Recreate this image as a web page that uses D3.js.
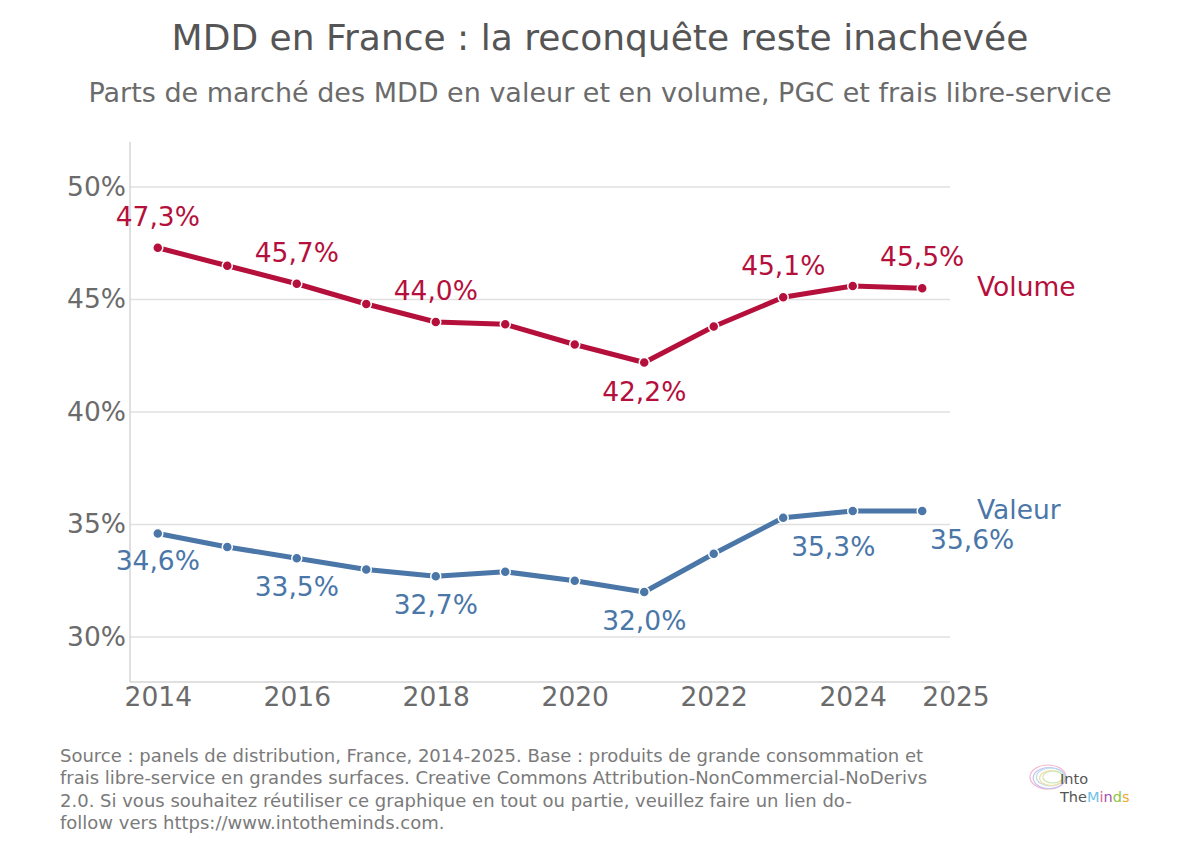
<!DOCTYPE html>
<meta charset="utf-8">
<html>
  <head>
    <title>MDD en France</title>
    <script src="https://d3js.org/d3.v7.min.js"></script>
    <style>
      body { margin: 0; background: #fff; }
      svg text { font-family: "DejaVu Sans", sans-serif; }
      .grid line { stroke: #e0e0e0; stroke-width: 1.5px; }
      .axis text { fill: #6b6b6b; font-size: 26.5px; font-family: "DejaVu Sans", sans-serif; }
      .axis path, .axis line { stroke: #d6d6d6; stroke-width: 1.5px; }
      .footer { fill: #7a7a7a; font-size: 18px; }
    </style>
  </head>
  <body>
    <svg id="chart" width="1200" height="850"></svg>
    <script>
      const width = 1200;
      const height = 850;

      // Données
      const years = [2014, 2015, 2016, 2017, 2018, 2019, 2020, 2021, 2022, 2023, 2024, 2025];
      const volume = [47.3, 46.5, 45.7, 44.8, 44.0, 43.9, 43.0, 42.2, 43.8, 45.1, 45.6, 45.5];
      const valeur = [34.6, 34.0, 33.5, 33.0, 32.7, 32.9, 32.5, 32.0, 33.7, 35.3, 35.6, 35.6];
      const yTicks = [30, 35, 40, 45, 50];
      const xTicks = [2014, 2016, 2018, 2020, 2022, 2024];
      const labelYears = [2014, 2016, 2018, 2021, 2023, 2025];
      const footerLines = [
        "Source : panels de distribution, France, 2014-2025. Base : produits de grande consommation et",
        "frais libre-service en grandes surfaces. Creative Commons Attribution-NonCommercial-NoDerivs",
        "2.0. Si vous souhaitez réutiliser ce graphique en tout ou partie, veuillez faire un lien do-",
        "follow vers https://www.intotheminds.com."
      ];

      const series = [
        { name: "Volume", values: volume, color: "#b5103c",
          // décalage des étiquettes [dx, dy] par année
          offsets: { 2014: [0, -22], 2016: [0, -22], 2018: [0, -22], 2021: [0, 38], 2023: [0, -22], 2025: [0, -22] } },
        { name: "Valeur", values: valeur, color: "#4a76a8",
          offsets: { 2014: [0, 36], 2016: [0, 38], 2018: [0, 38], 2021: [0, 38], 2023: [50, 38], 2025: [50, 38] } }
      ];

      const margin = { top: 142, right: 250, bottom: 168, left: 130 };

      const svg = d3.select("#chart");

      const x = d3.scaleLinear()
                  .domain([2013.6, 2025.4])
                  .range([margin.left, width - margin.right]);

      const y = d3.scaleLinear()
                  .domain([28, 52])
                  .range([height - margin.bottom, margin.top]);

      // Titre et sous-titre
      svg.append("text")
         .attr("x", width / 2).attr("y", 50)
         .attr("text-anchor", "middle")
         .style("font-size", "36px").style("fill", "#555")
         .text("MDD en France : la reconquête reste inachevée");

      svg.append("text")
         .attr("x", width / 2).attr("y", 102)
         .attr("text-anchor", "middle")
         .style("font-size", "27px").style("fill", "#6b6b6b")
         .text("Parts de marché des MDD en valeur et en volume, PGC et frais libre-service");

      // Grille
      svg.append("g")
         .attr("class", "grid")
         .selectAll("line")
         .data(yTicks)
         .enter()
         .append("line")
           .attr("x1", x.range()[0])
           .attr("x2", x.range()[1])
           .attr("y1", d => y(d))
           .attr("y2", d => y(d));

      // Axe Y
      const yAxis = svg.append("g")
         .attr("class", "axis")
         .attr("transform", `translate(${margin.left},0)`)
         .call(d3.axisLeft(y).tickValues(yTicks).tickSize(0).tickPadding(4).tickFormat(d => d + "%"));
      yAxis.select(".domain").attr("d", `M0,${y.range()[1]}V${y.range()[0]}`);

      // Axe X
      const xAxis = svg.append("g")
         .attr("class", "axis")
         .attr("transform", `translate(0,${height - margin.bottom})`)
         .call(d3.axisBottom(x).tickValues(xTicks).tickSize(0).tickPadding(5).tickFormat(d3.format("d")));
      xAxis.select(".domain").attr("d", `M${x.range()[0]},0H${x.range()[1]}`);
      // étiquette finale de l'axe
      xAxis.append("text")
         .attr("x", x.range()[1] + 6)
         .attr("y", 5)
         .attr("dy", "0.71em")
         .attr("text-anchor", "middle")
         .text(years[years.length - 1]);

      const line = d3.line()
                     .x((d, i) => x(years[i]))
                     .y(d => y(d));

      series.forEach(s => {
        const g = svg.append("g");

        g.append("path")
         .datum(s.values)
         .attr("fill", "none")
         .attr("stroke", s.color)
         .attr("stroke-width", 5)
         .attr("stroke-linejoin", "round")
         .attr("d", line);

        g.selectAll("circle")
         .data(s.values)
         .enter()
         .append("circle")
           .attr("cx", (d, i) => x(years[i]))
           .attr("cy", d => y(d))
           .attr("r", 5)
           .attr("fill", s.color)
           .attr("stroke", "#fff")
           .attr("stroke-width", 1.5);

        // Étiquettes de valeurs
        g.selectAll("text.val")
         .data(labelYears)
         .enter()
         .append("text")
           .attr("class", "val")
           .attr("x", yr => x(yr) + s.offsets[yr][0])
           .attr("y", yr => y(s.values[years.indexOf(yr)]) + s.offsets[yr][1])
           .attr("text-anchor", "middle")
           .style("font-size", "26.5px")
           .style("fill", s.color)
           .text(yr => s.values[years.indexOf(yr)].toFixed(1).replace(".", ",") + "%");

        // Nom de la série
        g.append("text")
         .attr("x", x.range()[1] + 27)
         .attr("y", y(s.values[s.values.length - 1]) + 8)
         .style("font-size", "26.5px")
         .style("fill", s.color)
         .text(s.name);
      });

      // Pied de page
      svg.append("g")
         .selectAll("text")
         .data(footerLines)
         .enter()
         .append("text")
           .attr("class", "footer")
           .attr("x", 60)
           .attr("y", (d, i) => 762 + i * 22.3)
           .text(d => d);

      // Logo IntoTheMinds (approximation)
      const logo = svg.append("g").attr("transform", "translate(1028,762)");
      const brainColors = ["#f3b6d0", "#c9c0ec", "#b8dcef", "#f6dfa5", "#c6e6b4"];
      brainColors.forEach((c, i) => {
        logo.append("ellipse")
            .attr("cx", 20 + i * 1.2)
            .attr("cy", 15 + (i % 2))
            .attr("rx", 18 - i * 2)
            .attr("ry", 12 - i * 1.5)
            .attr("fill", "none")
            .attr("stroke", c)
            .attr("stroke-width", 1.2);
      });
      logo.append("text")
          .attr("x", 32).attr("y", 22)
          .style("font-size", "14.5px").style("fill", "#555")
          .text("Into");
      const minds = logo.append("text")
          .attr("x", 32).attr("y", 40)
          .style("font-size", "14.5px");
      [["The", "#555"], ["M", "#6cc3e6"], ["i", "#e85c9a"], ["n", "#a24fb0"], ["d", "#8cc63f"], ["s", "#f0a830"]]
        .forEach(([t, c]) => minds.append("tspan").style("fill", c).text(t));
    </script>
  </body>
</html>
